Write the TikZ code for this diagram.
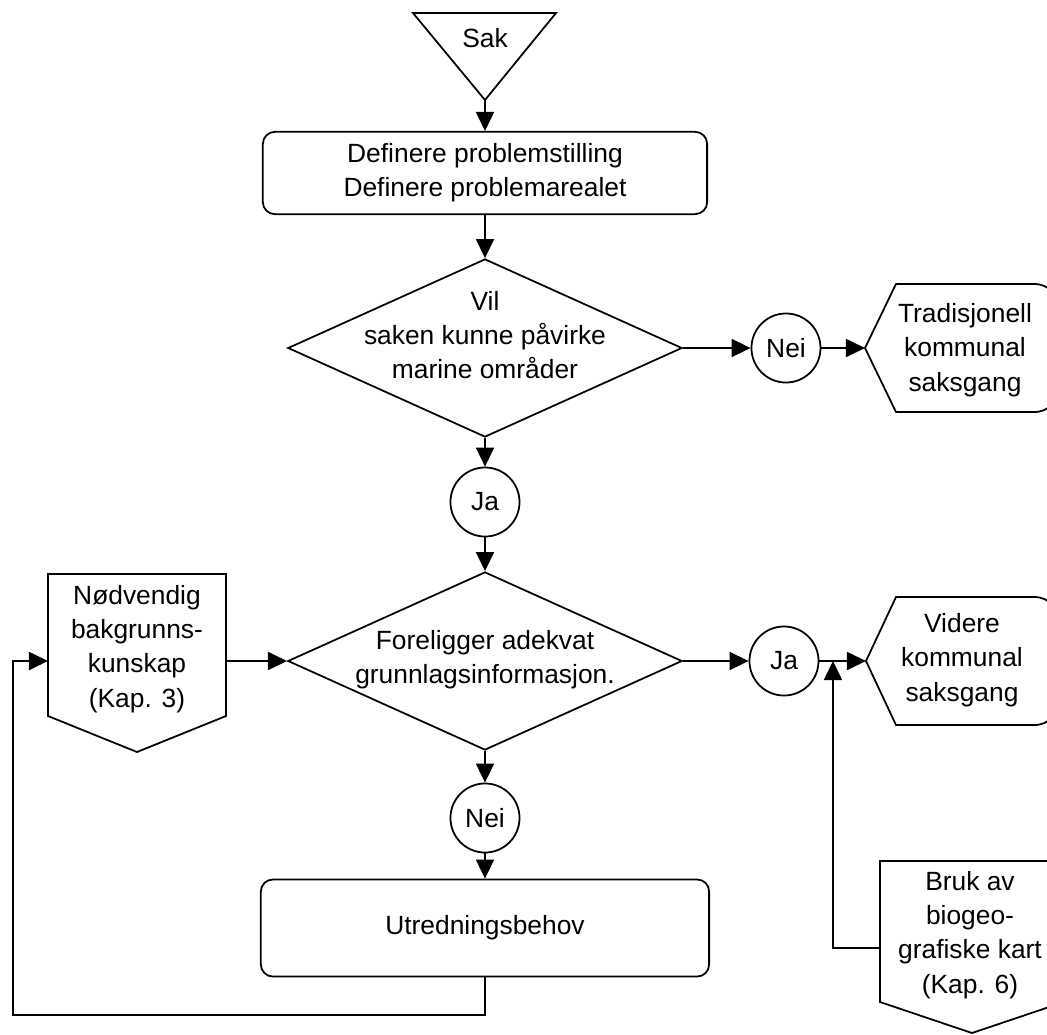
\documentclass[tikz,border=0pt]{standalone}
\usepackage{fontspec}
\setmainfont{Liberation Sans}
\usetikzlibrary{shapes.geometric,arrows.meta}

\begin{document}
\begin{tikzpicture}[x = 0.01cm, y = -0.01cm]
  % styles
  \tikzstyle{every node} = [font = \fontsize{7.5}{9.75}\selectfont, align = center]
  \tikzstyle{outline} = [line width = 0.5pt]
  \tikzstyle{process} = [outline, draw, rounded corners = 0.12cm, minimum width = 4.44cm, minimum height = 0.78cm]
  \tikzstyle{decision} = [outline, draw, diamond, inner sep = 0pt, minimum width = 3.94cm, minimum height = 1.78cm]
  \tikzstyle{answer} = [outline, draw, circle, inner sep = 0pt, minimum size = 0.69cm]
  \tikzstyle{flow} = [outline, -{Triangle[length = 0.19cm, width = 0.18cm]}]

  \useasboundingbox (0, 0) rectangle (1047, 1035);

  % start
  \draw[outline] (413, 13) -- (556, 13) -- (485, 100) -- cycle;
  \node (sak) at (485, 38) {Sak};
  \coordinate (sakbot) at (485, 100);

  % main column
  \node[process] (def) at (485, 173) {Definere problemstilling\\Definere problemarealet};
  \node[decision] (q1) at (485, 348) {};
  \node (q1t) at (485, 335) {Vil\\saken kunne påvirke\\marine områder};
  \node[answer] (ja1) at (485, 502) {Ja};
  \node[decision] (q2) at (485, 661) {};
  \node (q2t) at (485, 660) {Foreligger adekvat\\grunnlagsinformasjon.};
  \node[answer] (nei2) at (485, 818) {Nei};
  \node[process, minimum width = 4.48cm, minimum height = 0.97cm] (utr) at (485, 928) {Utredningsbehov};

  % answers to the right
  \node[answer] (nei1) at (786, 348) {Nei};
  \node[answer] (ja2) at (784, 661) {Ja};

  % tradisjonell saksgang
  \draw[outline] (865, 348) -- (896, 284) -- (1034, 284) .. controls (1050, 284) and (1057, 295)
    .. (1057, 312) -- (1057, 384) .. controls (1057, 401) and (1050, 412) .. (1034, 412)
    -- (896, 412) -- cycle;
  \node (trad) at (965, 350) {Tradisjonell\\kommunal\\saksgang};
  \coordinate (tradtip) at (865, 348);

  % videre saksgang
  \draw[outline] (866, 661) -- (896, 597) -- (1034, 597) .. controls (1050, 597) and (1057, 608)
    .. (1057, 625) -- (1057, 697) .. controls (1057, 714) and (1050, 725) .. (1034, 725)
    -- (896, 725) -- cycle;
  \node (vid) at (962, 660) {Videre\\kommunal\\saksgang};
  \coordinate (vidtip) at (866, 661);

  % bakgrunnskunnskap
  \draw[outline] (48, 574) -- (226, 574) -- (226, 716) -- (137, 752) -- (48, 716) -- cycle;
  \node (nod) at (137, 649) {Nødvendig\\bakgrunns-\\kunskap\\(Kap. 3)};
  \coordinate (nodin) at (48, 661);
  \coordinate (nodout) at (226, 661);

  % biogeografiske kart
  \draw[outline] (880, 861) -- (1064, 861) -- (1064, 1002) -- (972, 1033) -- (880, 1002) -- cycle;
  \node (bruk) at (970, 935) {Bruk av\\biogeo-\\grafiske kart\\(Kap. 6)};
  \coordinate (brukin) at (880, 948);
  \coordinate (jointup) at (833, 661);
  \coordinate (loopleft) at (13, 1015);

  % connectors
  \draw[flow] (sakbot) -- (def);
  \draw[flow] (def) -- (q1);
  \draw[flow] (q1) -- (ja1);
  \draw[flow] (ja1) -- (q2);
  \draw[flow] (q1) -- (nei1);
  \draw[flow] (nei1) -- (tradtip);
  \draw[flow] (q2) -- (ja2);
  \draw[flow] (ja2) -- (vidtip);
  \draw[flow] (q2) -- (nei2);
  \draw[flow] (nei2) -- (utr);
  \draw[flow] (nodout) -- (q2);
  \draw[flow] (utr.south) |- (loopleft) |- (nodin);
  \draw[flow] (brukin) -| (jointup);

\end{tikzpicture}
\end{document}
